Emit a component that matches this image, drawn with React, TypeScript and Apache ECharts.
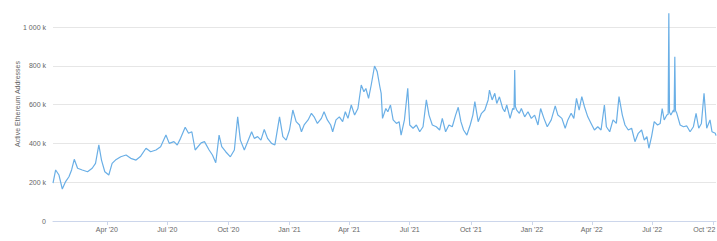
import React, { useEffect, useRef } from "react";
import * as echarts from "echarts";

const dates: string[] = [
  "2020-01-11","2020-01-15","2020-01-20","2020-01-25","2020-01-30","2020-02-04","2020-02-08","2020-02-12","2020-02-17","2020-02-24",
  "2020-03-03","2020-03-10","2020-03-15","2020-03-20","2020-03-24","2020-03-29","2020-04-04","2020-04-09","2020-04-14","2020-04-22",
  "2020-04-30","2020-05-07","2020-05-15","2020-05-22","2020-05-30","2020-06-06","2020-06-14","2020-06-21","2020-06-29","2020-07-04",
  "2020-07-11","2020-07-16","2020-07-21","2020-07-28","2020-08-02","2020-08-07","2020-08-12","2020-08-21","2020-08-26","2020-09-02",
  "2020-09-07","2020-09-12","2020-09-17","2020-09-21","2020-09-27","2020-10-04","2020-10-10","2020-10-15","2020-10-19","2020-10-25",
  "2020-10-30","2020-11-05","2020-11-09","2020-11-14","2020-11-19","2020-11-24","2020-11-29","2020-12-05","2020-12-10","2020-12-17",
  "2020-12-22","2020-12-27",
  "2021-01-01","2021-01-06","2021-01-11","2021-01-16","2021-01-19","2021-01-23","2021-01-29","2021-02-03","2021-02-07","2021-02-12",
  "2021-02-18","2021-02-22","2021-02-27","2021-03-04","2021-03-07","2021-03-12","2021-03-17","2021-03-22","2021-03-26","2021-03-30",
  "2021-04-04","2021-04-09","2021-04-14","2021-04-19","2021-04-23","2021-04-26","2021-04-30","2021-05-04","2021-05-09","2021-05-13",
  "2021-05-17","2021-05-19","2021-05-21","2021-05-26","2021-05-29","2021-06-02","2021-06-06","2021-06-11","2021-06-15","2021-06-18",
  "2021-06-23","2021-06-28","2021-07-01","2021-07-06","2021-07-11","2021-07-16","2021-07-21","2021-07-26","2021-07-30","2021-08-04",
  "2021-08-10","2021-08-15","2021-08-19","2021-08-24","2021-08-29","2021-09-03","2021-09-08","2021-09-12","2021-09-16","2021-09-20",
  "2021-09-25","2021-09-30","2021-10-04","2021-10-07","2021-10-12","2021-10-17","2021-10-22","2021-10-27","2021-10-29","2021-11-02",
  "2021-11-06","2021-11-09","2021-11-13","2021-11-18","2021-11-21","2021-11-24","2021-11-29","2021-12-03","2021-12-05","2021-12-06",
  "2021-12-07","2021-12-09","2021-12-13","2021-12-16","2021-12-21","2021-12-26","2021-12-31",
  "2022-01-05","2022-01-10","2022-01-14","2022-01-19","2022-01-24","2022-01-30","2022-02-05","2022-02-09","2022-02-15","2022-02-20",
  "2022-02-24","2022-03-01","2022-03-05","2022-03-09","2022-03-13","2022-03-17","2022-03-21","2022-03-26","2022-03-31","2022-04-05",
  "2022-04-10","2022-04-15","2022-04-20","2022-04-23","2022-04-28","2022-05-03","2022-05-08","2022-05-12","2022-05-17","2022-05-21",
  "2022-05-26","2022-05-31","2022-06-05","2022-06-10","2022-06-15","2022-06-19","2022-06-23","2022-06-26","2022-06-30","2022-07-04",
  "2022-07-09","2022-07-13","2022-07-16","2022-07-19","2022-07-23","2022-07-25","2022-07-26","2022-07-27","2022-07-29","2022-08-02",
  "2022-08-03","2022-08-04","2022-08-05","2022-08-07","2022-08-12","2022-08-17","2022-08-22","2022-08-27","2022-09-01","2022-09-05",
  "2022-09-09","2022-09-13","2022-09-17","2022-09-21","2022-09-26","2022-09-29","2022-10-04","2022-10-05",
];

// active addresses, in thousands
const activeAddressesK: number[] = [
  195,263,237,165,203,228,263,318,272,263,
  254,272,297,392,314,254,237,297,314,331,
  340,323,314,334,375,357,366,383,443,400,
  409,392,426,483,452,460,366,403,409,366,
  340,300,443,383,357,331,366,537,417,366,
  409,460,426,435,417,472,426,400,392,537,
  435,417,
  469,572,512,495,460,495,521,555,537,503,
  529,563,521,495,460,521,537,512,563,529,
  598,546,580,701,666,683,632,701,799,770,
  692,658,529,580,563,598,521,503,512,443,
  521,684,495,478,495,460,486,624,546,495,
  486,469,529,460,495,486,546,586,512,469,
  443,495,546,615,512,555,572,624,675,624,
  658,606,640,580,563,598,529,580,575,778,
  590,572,555,580,537,563,529,
  546,495,580,529,486,521,593,546,529,478,
  521,555,529,632,572,641,589,537,503,469,
  486,469,598,486,460,521,503,641,546,495,
  469,478,409,452,469,417,435,375,435,512,
  495,503,580,521,546,550,1071,560,546,572,
  560,847,570,555,495,486,490,460,486,555,
  478,503,658,478,521,460,452,440,
];

const yTicksK: number[] = [0, 200, 400, 600, 800, 1000];
const monthNames = ["Jan","Feb","Mar","Apr","May","Jun","Jul","Aug","Sep","Oct","Nov","Dec"];

const FONT = "Helvetica, Arial, 'Liberation Sans', sans-serif";

export default function App() {
  const ref = useRef<HTMLDivElement>(null);
  useEffect(() => {
    if (!ref.current) return;
    const chart = echarts.init(ref.current, undefined, { renderer: "svg" });
    const seriesData = dates.map((d, i) => [d, activeAddressesK[i]]);
    const lastTime = new Date(dates[dates.length - 1]).getTime();
    chart.setOption({
      animation: false,
      grid: {
        left: 53,
        right: 1,
        top: 27,
        bottom: 20,
        containLabel: false,
        outerBoundsMode: "none",
      },
      xAxis: {
        type: "time",
        min: dates[0],
        max: dates[dates.length - 1],
        minInterval: 80 * 86400000,
        maxInterval: 100 * 86400000,
        axisLine: { show: true, lineStyle: { color: "#ccd6eb", width: 1 } },
        axisTick: { show: true, length: 4, lineStyle: { color: "#ccd6eb" } },
        splitLine: { show: false },
        axisLabel: {
          fontSize: 7,
          color: "#666666",
          fontFamily: FONT,
          margin: 5,
          hideOverlap: false,
          formatter: (v: number) => {
            const d = new Date(v);
            const s = monthNames[d.getMonth()] + " '" + String(d.getFullYear()).slice(2);
            // the last label is pulled inside the chart, as in the reference
            return lastTime - v < 20 * 86400000 ? "{edge|" + s + "}" : s;
          },
          rich: {
            edge: {
              fontSize: 7,
              color: "#666666",
              fontFamily: FONT,
              padding: [0, 18, 0, 0],
            },
          },
        },
      },
      yAxis: {
        type: "value",
        min: yTicksK[0],
        max: yTicksK[yTicksK.length - 1],
        interval: 200,
        axisLine: { show: false },
        axisTick: { show: false },
        splitLine: { show: true, lineStyle: { color: "#e6e6e6", width: 1 } },
        axisLabel: {
          fontSize: 7,
          color: "#666666",
          fontFamily: FONT,
          margin: 7,
          formatter: (v: number) => (v === 0 ? "0" : v >= 1000 ? "1 000 k" : v + " k"),
        },
      },
      graphic: [
        {
          type: "text",
          x: 17,
          y: 104,
          rotation: Math.PI / 2,
          style: {
            text: "Active Ethereum Addresses",
            fontSize: 7,
            fill: "#666666",
            fontFamily: FONT,
            align: "center",
            verticalAlign: "middle",
          },
        },
      ],
      series: [
        {
          type: "line",
          data: seriesData,
          showSymbol: false,
          clip: false,
          lineStyle: { color: "#6aafe6", width: 1.2 },
          itemStyle: { color: "#6aafe6" },
        },
      ],
    });
    return () => chart.dispose();
  }, []);
  return (
    <div
      ref={ref}
      style={{ position: "fixed", left: 0, top: 0, width: 717, height: 241, background: "#ffffff" }}
    />
  );
}
